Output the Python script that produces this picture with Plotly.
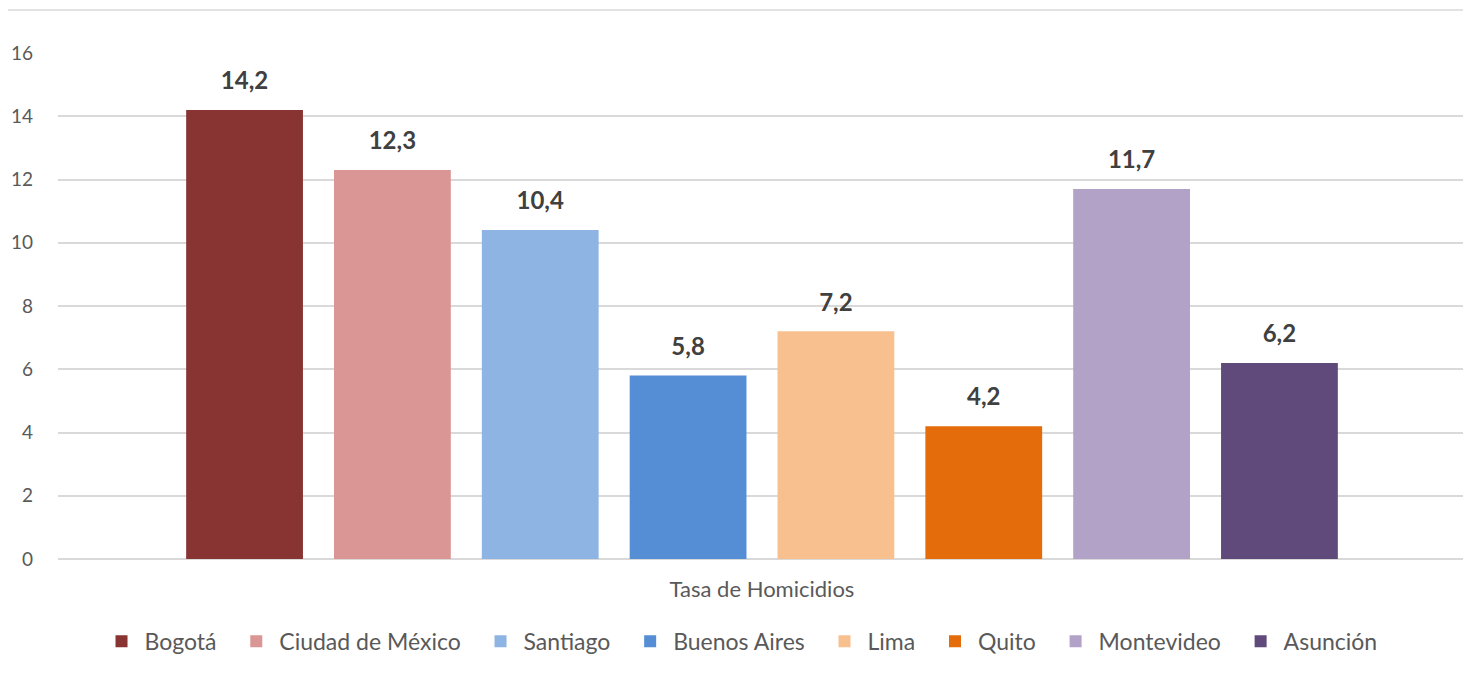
import plotly.graph_objects as go

categories = ["Tasa de Homicidios"]
cities = ["Bogotá", "Ciudad de México", "Santiago", "Buenos Aires", "Lima", "Quito", "Montevideo", "Asunción"]
values = [14.2, 12.3, 10.4, 5.8, 7.2, 4.2, 11.7, 6.2]
colors = ["#873433", "#DA9694", "#8EB4E3", "#558ED5", "#F9C08F", "#E46C0A", "#B3A2C7", "#604A7B"]
y_ticks = [0, 2, 4, 6, 8, 10, 12, 14, 16]

FONT = "Lato, 'Noto Sans', sans-serif"
PAD = "\u00a0\u00a0"

fig = go.Figure()
for city, val, col in zip(cities, values, colors):
    fig.add_trace(go.Bar(
        name=city + PAD,
        x=categories,
        y=[val],
        offsetgroup=city,
        marker=dict(color=col, line=dict(width=0)),
    ))
for city, val in zip(cities, values):
    fig.add_trace(go.Scatter(
        x=categories,
        y=[val],
        offsetgroup=city,
        mode="markers+text",
        text=[f"<b>{val:.1f}</b>".replace(".", ",")],
        textposition="top center",
        marker=dict(size=22, opacity=0),
        textfont=dict(family=FONT, size=24, color="#404040"),
        showlegend=False,
        cliponaxis=False,
        hoverinfo="skip",
    ))

fig.update_layout(
    width=1463, height=669,
    margin=dict(l=50, r=5, t=45, b=118, autoexpand=False),
    paper_bgcolor="white", plot_bgcolor="white",
    separators=",.",
    barmode="group",
    scattermode="group",
    bargap=0.16,
    bargroupgap=0.21,
    font=dict(family=FONT, color="#595959"),
    showlegend=True,
    legend=dict(orientation="h", x=0.489, xanchor="center", y=-0.12, yanchor="top",
                font=dict(size=23, color="#595959"), itemwidth=36, traceorder="normal"),
    xaxis=dict(showgrid=False, showline=False, ticks="", automargin=False, ticklabelstandoff=15,
               tickfont=dict(size=22, color="#595959")),
    yaxis=dict(range=[0, 16], tickvals=y_ticks, showgrid=True, gridcolor="#D9D9D9", gridwidth=1.5,
               zeroline=True, zerolinecolor="#D9D9D9", zerolinewidth=1.5, showline=False, automargin=False,
               tickfont=dict(size=19, color="#595959"), ticklabelstandoff=24, ticks=""),
    shapes=[dict(type="rect", xref="paper", yref="paper",
                 x0=(7 - 58) / 1400, x1=(1463 - 58) / 1400,
                 y0=-0.3, y1=(559 - 10) / 506,
                 line=dict(color="#D9D9D9", width=1.5), fillcolor="rgba(0,0,0,0)", layer="below")],
)

fig.write_html("out.html")
